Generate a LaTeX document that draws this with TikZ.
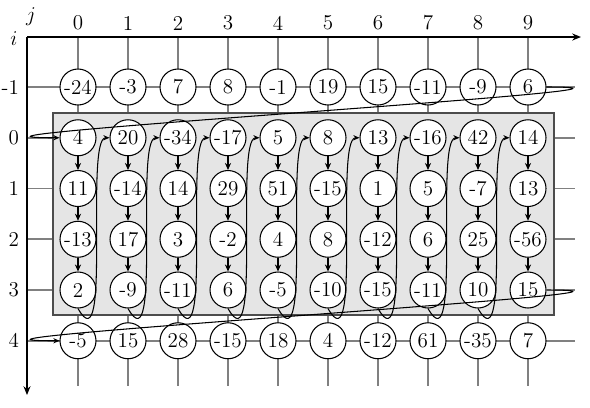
\documentclass[tikz,border=0pt]{standalone}
\usetikzlibrary{arrows.meta}
\begin{document}
\begin{tikzpicture}[x=0.02cm,y=-0.02cm,
  gridline/.style={gray, line width=1pt},
  axis/.style={black, line width=0.9pt, -{Stealth[length=5pt,width=4pt]}},
  cell/.style={circle, draw, fill=white, minimum size=0.72cm, inner sep=0pt, font=\large, semithick},
  downarrow/.style={thick, -{Stealth[length=4pt,width=3.5pt]}},
  snake/.style={semithick, -{Stealth[length=3.5pt,width=3pt]}},
  lbl/.style={font=\large, inner sep=1pt},
  block/.style={draw=gray!60!black, fill=gray!20, line width=0.6pt}]
\useasboundingbox (0,0) rectangle (590,407);
% grid
\foreach \c in {0,...,9} \draw[gridline] ({78+50*\c},37) -- ({78+50*\c},386);
\foreach \r in {0,...,5} \draw[gridline] (27,{87+50.75*\r}) -- (575,{87+50.75*\r});
% axes
\coordinate (O) at (27,37);
\coordinate (xend) at (581,37);
\coordinate (yend) at (27,395);
\draw[axis] (O) -- (xend);
\draw[axis] (O) -- (yend);
% block
\draw[block] (53,113) rectangle (554,315);
% labels
\node[lbl] (jlab) at (31,17) {$j$};
\node[lbl] (ilab) at (14,39) {$i$};
\foreach \c in {0,...,9} \node[lbl] (col\c) at ({78+50*\c},23) {\c};
\foreach \i [count=\r from 0] in {-1,0,1,2,3,4} \node[lbl, anchor=east] (row\r) at (21,{87+50.75*\r}) {\i};
% cells
\foreach \rowvals [count=\r from 0] in {
  {-24,-3,7,8,-1,19,15,-11,-9,6},
  {4,20,-34,-17,5,8,13,-16,42,14},
  {11,-14,14,29,51,-15,1,5,-7,13},
  {-13,17,3,-2,4,8,-12,6,25,-56},
  {2,-9,-11,6,-5,-10,-15,-11,10,15},
  {-5,15,28,-15,18,4,-12,61,-35,7}} {
  \foreach \v [count=\c from 0] in \rowvals {
    \node[cell] (n\r-\c) at ({78+50*\c},{87+50.75*\r}) {\v};
  }
}
% vertical arrows
\foreach \r in {1,2,3} {
  \pgfmathtruncatemacro{\rn}{\r+1}
  \foreach \c in {0,...,9} \draw[downarrow] (n\r-\c) -- (n\rn-\c);
}
% snake curves
\foreach \c in {0,...,8} {
  \pgfmathtruncatemacro{\cn}{\c+1}
  \draw[snake] (n4-\c.south) .. controls +(34,60) and +(-25,0) .. (n1-\cn.west);
}
% wrap curves
\draw[snake] (n0-9.east) .. controls +(185,0) and +(-185,0) .. (n1-0.west);
\draw[snake] (n4-9.east) .. controls +(185,0) and +(-185,0) .. (n5-0.west);
\end{tikzpicture}
\end{document}
